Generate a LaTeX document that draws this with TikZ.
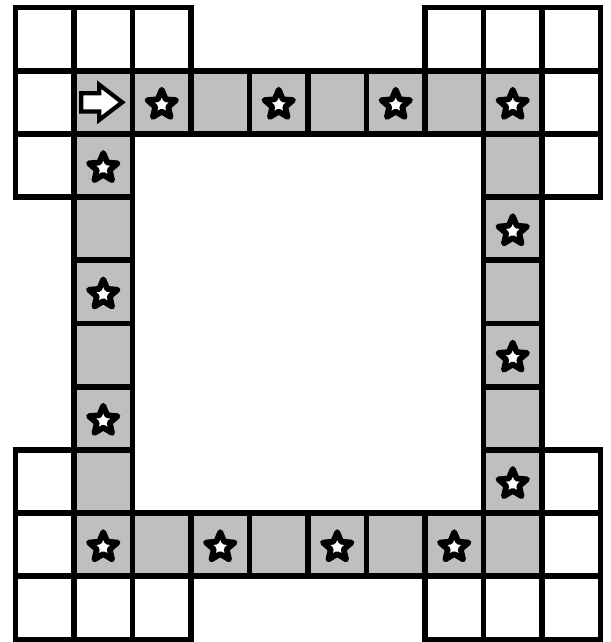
\documentclass[tikz,border=0pt]{standalone}
\usetikzlibrary{shapes.geometric,shapes.arrows}
\tikzset{
  cellbox/.style={draw=black, line width=3.4pt, minimum width=1.17cm,
    minimum height=1.264cm, inner sep=0pt},
  plaincell/.style={cellbox, fill=white},
  trackcell/.style={cellbox, fill=gray!50},
  starmark/.style={star, star points=5, star point ratio=2.2, draw=black,
    line width=3.3pt, line join=round, fill=white, minimum size=0.6cm, inner sep=0pt},
  startmark/.style={single arrow, draw=black, line width=2.4pt, fill=white,
    minimum height=0.82cm, inner sep=0.14cm, single arrow head extend=0.17cm,
    single arrow tip angle=75}
}
\begin{document}
\begin{tikzpicture}[x=1.17cm, y=-1.264cm]
  \useasboundingbox (-0.31cm,0.15cm) rectangle (11.91cm,-12.69cm);
  % White cells in the four corners
  \foreach \i/\j in {0/0,1/0,2/0,0/1,0/2, 7/0,8/0,9/0,9/1,9/2,
                     0/7,0/8,0/9,1/9,2/9, 9/7,9/8,7/9,8/9,9/9}
    \node[plaincell] (c-\i-\j) at (\i+0.5,\j+0.5) {};
  % Track round the board
  \foreach \i in {1,...,8}
    \foreach \j in {1,8}
      \node[trackcell] (c-\i-\j) at (\i+0.5,\j+0.5) {};
  \foreach \i in {1,8}
    \foreach \j in {2,...,7}
      \node[trackcell] (c-\i-\j) at (\i+0.5,\j+0.5) {};
  % Start arrow
  \node[startmark] (start) at ([xshift=-0.15cm]c-1-1) {};
  % Stars on every second cell
  \foreach \i/\j in {2/1,4/1,6/1,8/1, 8/3,8/5,8/7, 7/8,5/8,3/8,1/8, 1/6,1/4,1/2}
    \node[starmark] (s-\i-\j) at ([yshift=-0.05cm]c-\i-\j) {};
\end{tikzpicture}
\end{document}
